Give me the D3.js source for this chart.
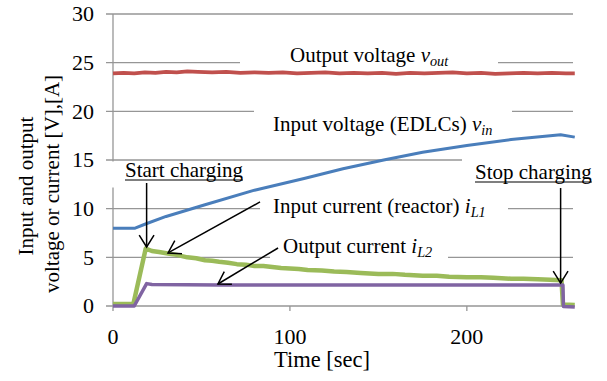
<!DOCTYPE html>
<html>
<head>
<meta charset="utf-8">
<script src="https://cdn.jsdelivr.net/npm/d3@7/dist/d3.min.js"></script>
<style>
  html, body { margin: 0; padding: 0; background: #fff; }
  svg text { font-family: "Liberation Serif", Tinos, "Times New Roman", Times, serif; fill: #000; }
</style>
</head>
<body>
<svg id="chart" width="607" height="381"></svg>
<script>
// ---- data ----
const yTicks = [0, 5, 10, 15, 20, 25, 30];
const xTicks = [0, 100, 200];

const voutTime = [0, 6, 12, 18, 24, 30, 36, 42, 48, 56, 64, 72, 80, 88, 96, 104, 112, 120, 128, 136, 144, 152, 160, 168, 176, 184, 192, 200, 208, 216, 224, 232, 240, 248, 256, 261];
const voutVals = [23.9, 23.95, 23.9, 24.0, 23.95, 24.05, 24.0, 24.1, 24.05, 24.0, 24.05, 23.95, 24.0, 23.95, 24.0, 23.9, 23.95, 24.0, 23.9, 23.95, 23.9, 23.95, 23.85, 23.95, 23.9, 23.95, 24.0, 23.9, 23.95, 23.85, 23.9, 23.95, 23.9, 23.95, 23.9, 23.9];

const vinTime = [0, 12.5, 18, 30, 52, 80, 108, 130, 153, 175, 200, 225, 253, 261];
const vinVals = [8.0, 8.0, 8.4, 9.2, 10.4, 11.9, 13.1, 14.1, 15.0, 15.8, 16.5, 17.1, 17.6, 17.35];

const iL1Time = [0, 11.5, 18.5, 22, 26, 31, 36, 42, 47, 52, 56, 60, 65, 70, 75, 80, 85, 90, 95, 100, 105, 110, 118, 125, 132, 140, 150, 158, 165, 175, 183, 190, 200, 208, 215, 225, 232, 240, 247, 253.5, 254.3, 261];
const iL1Vals = [0.2, 0.2, 5.9, 5.65, 5.55, 5.4, 5.25, 5.0, 4.9, 4.7, 4.65, 4.55, 4.45, 4.3, 4.25, 4.1, 4.1, 4.0, 3.9, 3.85, 3.8, 3.7, 3.65, 3.55, 3.5, 3.4, 3.3, 3.3, 3.2, 3.1, 3.1, 3.0, 2.95, 2.95, 2.9, 2.8, 2.8, 2.75, 2.7, 2.65, 0.15, 0.1];

const iL2Time = [0, 12, 19, 22, 60, 100, 150, 200, 254.3, 254.6, 261];
const iL2Vals = [0, 0, 2.3, 2.2, 2.15, 2.15, 2.15, 2.15, 2.15, -0.05, -0.1];

const seriesNames = ["vout", "vin", "iL1", "iL2"];
const seriesColors = ["#C0504D", "#4A7EBB", "#9BBB59", "#8064A2"];

// ---- layout ----
const svg = d3.select("#chart");
const x = d3.scaleLinear().domain([0, 260]).range([113, 573]);
const y = d3.scaleLinear().domain([0, 30]).range([306, 14]);
const TICKF = 22, TITLEF = 22.5, ANNF = 21, YTF = 21;

svg.append("g").selectAll("line").data(yTicks).join("line")
  .attr("x1", 106).attr("x2", x(260))
  .attr("y1", d => y(d)).attr("y2", d => y(d))
  .attr("stroke", "#969696").attr("stroke-width", 1.3);

svg.append("line").attr("x1", x(0)).attr("x2", x(0)).attr("y1", y(30)).attr("y2", y(0))
  .attr("stroke", "#969696").attr("stroke-width", 1.3);

svg.append("g").selectAll("line").data(xTicks).join("line")
  .attr("x1", d => x(d)).attr("x2", d => x(d)).attr("y1", y(0)).attr("y2", y(0) + 5)
  .attr("stroke", "#969696").attr("stroke-width", 1.3);

const boxes = [
  [240, 45, 258, 26],
  [254, 104, 258, 32],
  [110, 161.5, 147, 26],
  [462, 152, 145, 34],
  [260, 197, 248, 24],
  [270, 246, 178, 20]
];
svg.append("g").selectAll("rect").data(boxes).join("rect")
  .attr("x", d => d[0]).attr("y", d => d[1]).attr("width", d => d[2]).attr("height", d => d[3])
  .attr("fill", "#fff");

svg.append("g").selectAll("text").data(yTicks).join("text")
  .attr("x", 94).attr("y", d => y(d)).attr("dy", "0.34em")
  .attr("text-anchor", "end").attr("font-size", TICKF).text(d => d);
svg.append("g").selectAll("text").data(xTicks).join("text")
  .attr("x", d => x(d)).attr("y", 344)
  .attr("text-anchor", "middle").attr("font-size", TICKF).text(d => d);

svg.append("text").attr("x", 322).attr("y", 367).attr("text-anchor", "middle")
  .attr("font-size", TITLEF).text("Time [sec]");
svg.append("text").attr("transform", "translate(26,186) rotate(-90)")
  .attr("text-anchor", "middle").attr("dominant-baseline", "central")
  .attr("font-size", YTF).text("Input and output");
svg.append("text").attr("transform", "translate(52,184) rotate(-90)")
  .attr("text-anchor", "middle").attr("dominant-baseline", "central")
  .attr("font-size", YTF).text("voltage or current [V],[A]");

const series = [
  { t: voutTime, v: voutVals, w: 3.8 },
  { t: vinTime, v: vinVals, w: 3 },
  { t: iL1Time, v: iL1Vals, w: 4.5 },
  { t: iL2Time, v: iL2Vals, w: 3.5 }
];
const line = d3.line().x(d => x(d[0])).y(d => y(d[1]));
svg.append("g").selectAll("path").data(series).join("path")
  .attr("d", s => line(s.t.map((t, i) => [t, s.v[i]])))
  .attr("fill", "none")
  .attr("stroke", (s, i) => seriesColors[i])
  .attr("stroke-width", s => s.w)
  .attr("stroke-linejoin", "round");

function label(xp, yp, main, sub) {
  const t = svg.append("text").attr("x", xp).attr("y", yp).attr("font-size", ANNF);
  t.append("tspan").text(main);
  if (sub) {
    t.append("tspan").attr("font-style", "italic").text(sub[0]);
    t.append("tspan").attr("font-style", "italic").attr("font-size", ANNF * 0.68)
      .attr("dy", 4).text(sub[1]);
  }
  return t;
}
label(290, 62, "Output voltage ", ["v", "out"]);
label(273, 131, "Input voltage (EDLCs) ", ["v", "in"]);
label(273, 213, "Input current (reactor) ", ["i", "L1"]);
label(283, 253, "Output current ", ["i", "L2"]);

function underlined(xp, yp, txt) {
  const t = svg.append("text").attr("x", xp).attr("y", yp).attr("font-size", ANNF).text(txt);
  const w = t.node().getComputedTextLength();
  svg.append("line").attr("x1", xp).attr("x2", xp + w).attr("y1", yp + 3).attr("y2", yp + 3)
    .attr("stroke", "#000").attr("stroke-width", 1.2);
}
underlined(125, 177, "Start charging");
underlined(475, 179, "Stop charging");

const arrowTail = [[19.0, 12.64], [83.1, 10.69], [93.3, 5.96], [253.0, 12.12]];
const arrowTip = [[19.0, 6.06], [31.1, 5.45], [59.3, 2.26], [253.0, 2.36]];
const ag = svg.append("g").attr("stroke", "#000").attr("stroke-width", 1.5).attr("fill", "none");
arrowTail.forEach((tail, i) => {
  const x1 = x(tail[0]), y1 = y(tail[1]);
  const x2 = x(arrowTip[i][0]), y2 = y(arrowTip[i][1]);
  ag.append("line").attr("x1", x1).attr("y1", y1).attr("x2", x2).attr("y2", y2);
  const ang = Math.atan2(y2 - y1, x2 - x1);
  const L = 14, a = 32 * Math.PI / 180;
  const p1 = [x2 - L * Math.cos(ang - a), y2 - L * Math.sin(ang - a)];
  const p2 = [x2 - L * Math.cos(ang + a), y2 - L * Math.sin(ang + a)];
  ag.append("path").attr("d", `M${p1[0]},${p1[1]}L${x2},${y2}L${p2[0]},${p2[1]}`);
});
</script>
</body>
</html>
